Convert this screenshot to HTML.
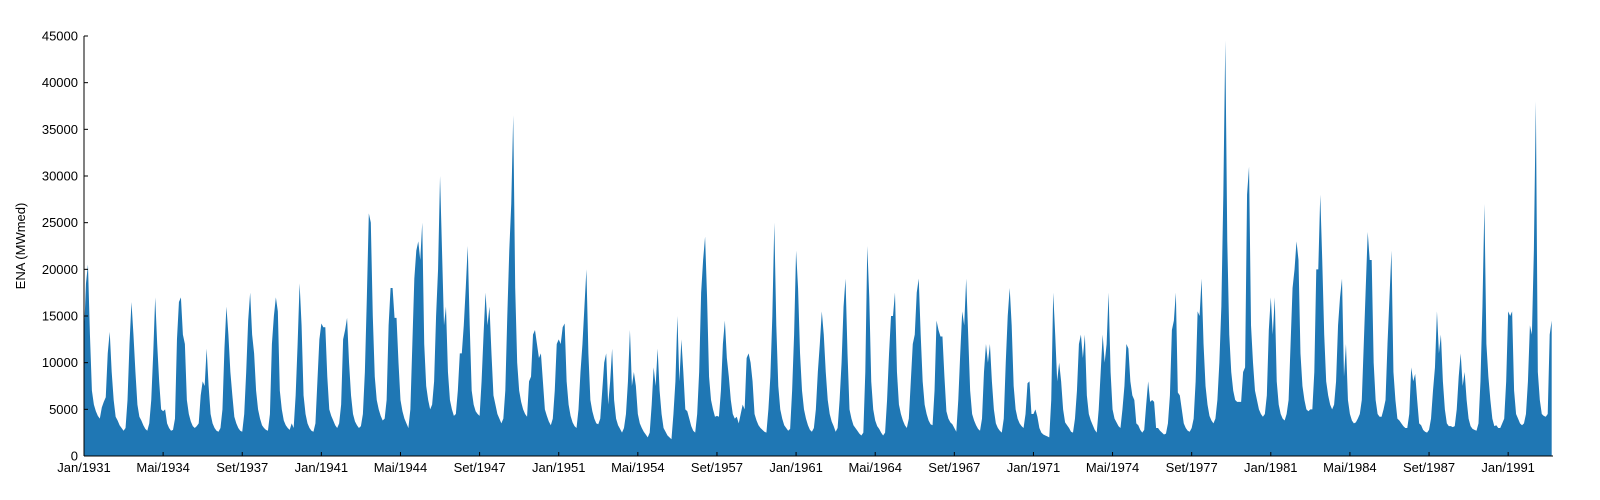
<!DOCTYPE html>
<html><head><meta charset="utf-8"><style>
html,body{margin:0;padding:0;background:#fff;width:1600px;height:500px;overflow:hidden;}
svg{display:block;font-family:"Liberation Sans",sans-serif;}
</style></head><body>
<svg id="chart" width="1600" height="500" viewBox="0 0 1600 500" xmlns="http://www.w3.org/2000/svg">
<g id="plot"></g>
<g id="axes"></g>
<text x="0" y="0" transform="translate(25,246) rotate(-90)" text-anchor="middle" font-size="13">ENA (MWmed)</text>
</svg>
<script>
const startYear = 1931;
const yTicks = [0,5000,10000,15000,20000,25000,30000,35000,40000,45000];
const xTickLabels = ["Jan/1931","Mai/1934","Set/1937","Jan/1941","Mai/1944","Set/1947","Jan/1951","Mai/1954","Set/1957","Jan/1961","Mai/1964","Set/1967","Jan/1971","Mai/1974","Set/1977","Jan/1981","Mai/1984","Set/1987","Jan/1991"];
const xTickMonths = [0,40,80,120,160,200,240,280,320,360,400,440,480,520,560,600,640,680,720];
const ena = [
13000,18500,20500,13000,7000,5500,4800,4300,4000,5200,5800,6300,
11000,13300,9000,6000,4200,3800,3300,3000,2700,3000,6000,12000,
16500,13000,9000,5500,4200,3800,3300,2900,2700,3500,6000,11000,
17000,12000,8000,5000,4800,5000,3500,3000,2700,2800,4000,12500,
16500,17000,13000,12000,6000,4500,3700,3200,3000,3200,3500,6500,
8000,7500,11500,7500,4500,3500,3000,2700,2600,3000,5000,11500,
16000,13000,9000,6500,4200,3500,3000,2700,2600,4500,9000,14500,
17500,13000,11000,7000,5000,4000,3300,3000,2800,2700,4500,12000,
15000,17000,15500,7000,5000,3800,3300,3000,2800,3500,3000,6500,
12000,18500,14000,6500,4500,3500,3000,2700,2600,3500,8000,12500,
14200,13800,13800,8500,5000,4300,3800,3300,3000,3500,5500,12500,
13500,14800,10000,6500,4500,3700,3300,3000,3200,4500,9000,17000,
26000,25000,15000,8500,6000,5000,4300,3800,4000,6000,14000,18000,
18000,14800,14800,10000,6000,4800,4000,3500,3000,5000,12000,19000,
22000,23000,21000,25000,12000,7500,6000,5000,5500,8000,15000,20000,
30000,22000,14000,16000,9000,6000,5000,4300,4500,7000,11000,11000,
14000,18000,22500,14000,7000,5500,4800,4500,4300,8000,13000,17500,
14000,16000,11000,6500,5500,4500,4000,3500,4000,7000,15000,22000,
27000,36500,18000,10000,7000,5800,5000,4500,4200,8000,8500,13000,
13500,12000,10500,11000,8000,5000,4300,3700,3300,4000,7000,12000,
12500,12000,13800,14200,8000,5500,4300,3600,3200,3000,5000,9000,
12000,16000,20000,11000,6000,4800,4000,3500,3400,4000,7000,10000,
11000,5500,8000,11500,6000,4000,3300,2900,2500,3000,4500,8000,
13500,7500,9000,7500,4500,3500,3000,2600,2300,2000,2500,5500,
9500,7500,11500,7000,4500,3000,2600,2200,2000,1800,4500,8000,
15000,8000,12500,9000,5000,4800,4000,3200,2700,2500,4500,9000,
17500,21000,23500,17000,8500,6000,5000,4200,4300,4200,7000,12000,
14500,10500,8500,6000,4500,4000,4200,3500,4500,5500,5000,10500,
11000,10000,8000,4500,3800,3300,3000,2800,2600,2500,5000,8500,
15000,25000,14000,7500,5000,4000,3300,3000,2700,2900,7000,13000,
22000,18000,11000,7000,5000,4000,3300,2800,2600,3000,5000,9000,
12000,15500,13000,9000,6000,4500,3700,3200,2600,3000,6000,10000,
16000,19000,11000,5000,4000,3300,3000,2700,2400,2200,2500,9000,
22500,17000,8000,5000,3800,3200,2900,2500,2200,2500,6000,11000,
15000,15000,17500,9000,5500,4500,3800,3300,3000,4000,8000,12000,
13000,17500,19000,13000,8000,5500,4500,3800,3400,3300,7000,14500,
13500,12800,12800,8500,4800,4000,3600,3400,3000,2600,6000,11000,
15500,14000,19000,13000,7000,4500,3800,3300,2900,2700,4000,9000,
12000,10000,12000,8000,5000,3500,3000,2700,2500,4000,10000,15000,
18000,14000,7500,5000,4000,3500,3200,3000,4500,7800,8000,4500,
4500,5000,4200,3000,2500,2300,2200,2100,2000,6000,17500,13000,
8000,10000,8000,5000,3600,3300,3000,2600,2500,4000,7000,12000,
13000,10500,13000,6500,4500,3800,3300,2800,2500,5000,9000,13000,
10000,12000,17500,9000,5000,4000,3600,3200,3000,5000,7500,12000,
11500,8000,6500,6000,3500,3300,2800,2500,2800,5500,8000,5800,
6000,5800,3000,3000,2700,2500,2300,2400,3500,6500,13500,14500,
17500,6800,6500,5000,3500,3000,2700,2600,3000,4000,8000,15500,
15000,19000,12000,7500,5500,4300,3800,3500,4000,6000,10000,16000,
28000,44500,23000,13000,9000,7000,6000,5800,5800,5800,9000,9500,
28000,31000,14000,10000,7000,6000,5000,4500,4200,4500,6500,13500,
17000,13000,17000,8000,5500,4500,4000,3800,4500,6000,12000,18000,
20000,23000,21000,11000,7500,6000,5000,4800,5000,5000,9000,20000,
20000,28000,21000,13000,8000,6500,5500,5000,5500,8000,14000,17000,
19000,8500,12000,6000,4500,3800,3500,3600,4000,4500,6000,12000,
18000,24000,21000,21000,10000,6000,4500,4200,4200,5000,6000,12000,
17000,22000,9000,6000,4000,3800,3500,3200,3000,3000,4500,9500,
8000,8800,6000,3500,3300,2800,2600,2500,2800,4000,7000,9500,
15500,11000,13000,8000,5000,3500,3200,3200,3100,3200,5000,8500,
11000,7500,9000,6000,4000,3200,2900,2800,2700,3500,8000,16000,
27000,12000,8500,6000,4000,3200,3300,3000,3000,3500,4000,8000,
15500,15000,15500,7000,4500,4000,3500,3300,3500,4500,8000,14000,
13000,22000,38000,9000,6000,4500,4300,4200,4500,13000,14500
];
const NS="http://www.w3.org/2000/svg";
const X0=84, PX_PER_MONTH=1.978, Y0=456, Y_PER=420/45000;
function xScale(m){return X0+m*PX_PER_MONTH;}
function yScale(v){return Y0-v*Y_PER;}
const plot=document.getElementById('plot');
const pts=[xScale(0)+","+Y0];
ena.forEach((v,i)=>pts.push(xScale(i).toFixed(2)+","+yScale(v).toFixed(2)));
pts.push(xScale(ena.length-1).toFixed(2)+","+Y0);
const poly=document.createElementNS(NS,'polygon');
poly.setAttribute('points',pts.join(' '));
poly.setAttribute('fill','#1f77b4');


plot.appendChild(poly);
const axes=document.getElementById('axes');
function line(x1,y1,x2,y2){const l=document.createElementNS(NS,'line');l.setAttribute('x1',x1);l.setAttribute('y1',y1);l.setAttribute('x2',x2);l.setAttribute('y2',y2);l.setAttribute('stroke','#000');l.setAttribute('stroke-width','1');return l;}
const ys=line(X0,yScale(45000),X0,Y0);


axes.appendChild(ys);
const xs=line(X0,Y0,1553,Y0);


axes.appendChild(xs);
yTicks.forEach(t=>{
  const y=yScale(t);
  const tk=line(X0,y,X0+4,y);
  
  
  axes.appendChild(tk);
  const tx=document.createElementNS(NS,'text');
  tx.setAttribute('x',X0-6);tx.setAttribute('y',y+4.5);tx.setAttribute('text-anchor','end');tx.setAttribute('font-size','13');
  tx.textContent=t;
  
  
  axes.appendChild(tx);
});
xTickMonths.forEach((m,i)=>{
  const x=xScale(m);
  const tk=line(x,Y0,x,Y0-4);
  
  
  axes.appendChild(tk);
  const tx=document.createElementNS(NS,'text');
  tx.setAttribute('x',x);tx.setAttribute('y',Y0+16);tx.setAttribute('text-anchor','middle');tx.setAttribute('font-size','13');
  tx.textContent=xTickLabels[i];
  
  
  axes.appendChild(tx);
});
</script>
</body></html>
